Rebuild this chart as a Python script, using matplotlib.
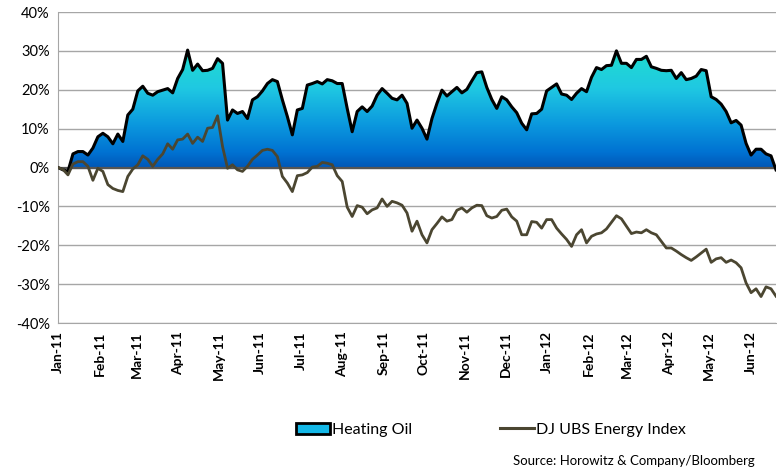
import matplotlib
matplotlib.use("Agg")
import matplotlib.pyplot as plt
import matplotlib.dates as mdates
from matplotlib.colors import LinearSegmentedColormap
from matplotlib.patches import Patch
from matplotlib.lines import Line2D
import numpy as np
import pandas as pd

plt.rcParams["font.family"] = ["Lato", "DejaVu Sans"]

# cumulative % change since start of 2011 (~every 3-4 days)
heating_oil = [
    0.0, -0.6, -1.0, 3.5, 4.1, 4.1, 3.2, 5.0, 7.9, 8.8, 7.9, 6.1, 8.6, 6.7, 13.5,
    15.0, 19.7, 20.9, 19.1, 18.6, 19.5, 19.9, 20.3, 19.2, 22.9, 25.2, 30.2, 25.0, 26.6,
    24.9, 25.0, 25.5, 28.0, 26.8, 12.2, 14.8, 13.9, 14.4, 12.6, 17.4, 18.2, 19.7, 21.6,
    22.6, 22.1, 17.4, 13.1, 8.4, 14.8, 15.2, 21.2, 21.6, 22.1, 21.5, 22.6, 22.3, 21.6,
    21.6, 15.2, 9.2, 14.4, 15.6, 14.4, 15.8, 18.6, 20.3, 19.1, 17.8, 17.4, 18.6, 16.5,
    10.1, 12.2, 10.1, 7.3, 12.6, 16.5, 19.9, 18.4, 19.5, 20.6, 19.2, 20.1, 22.3, 24.4,
    24.6, 20.6, 17.5, 15.2, 18.2, 17.4, 15.6, 14.1, 11.4, 9.7, 13.8, 13.9, 15.0, 19.7,
    20.6, 21.5, 18.9, 18.6, 17.5, 19.1, 20.3, 19.5, 23.2, 25.7, 25.2, 26.2, 26.3, 30.0,
    26.8, 26.8, 25.7, 27.8, 27.8, 28.6, 25.9, 25.5, 25.0, 24.9, 25.0, 22.9, 24.4, 22.6,
    22.9, 23.5, 25.2, 24.9, 18.2, 17.5, 16.3, 14.4, 11.5, 12.1, 10.9, 6.2, 3.2, 4.7,
    4.7, 3.5, 3.0, -0.6,
]
dj_ubs_energy = [
    0.0, -0.5, -1.9, 0.9, 1.5, 1.5, 0.3, -3.3, -0.2, -1.0, -4.4, -5.4, -5.9, -6.2, -2.3,
    -0.4, 0.7, 3.0, 2.1, 0.3, 2.1, 3.5, 6.1, 4.7, 7.1, 7.3, 8.6, 6.2, 7.8,
    6.7, 10.1, 10.3, 13.3, 5.4, -0.2, 0.7, -0.6, -1.0, 0.3, 2.1, 3.2, 4.4, 4.7,
    4.4, 2.8, -2.3, -4.0, -6.2, -2.1, -1.9, -1.3, 0.1, 0.3, 1.3, 1.1, 0.7, -2.1,
    -3.6, -10.2, -12.6, -9.8, -10.2, -11.9, -10.9, -10.4, -8.1, -10.0, -8.7, -9.1, -9.7, -11.7,
    -16.4, -13.8, -17.3, -19.4, -16.0, -14.4, -12.7, -13.8, -13.4, -11.0, -10.4, -11.5, -10.4, -9.7,
    -9.8, -12.4, -13.0, -12.6, -11.0, -10.7, -12.7, -13.8, -17.3, -17.3, -13.9, -14.1, -15.6, -13.4,
    -13.4, -15.6, -17.1, -18.5, -20.3, -17.3, -16.0, -19.4, -17.7, -17.1, -16.8, -15.8, -14.1, -12.4,
    -13.2, -15.1, -17.0, -16.6, -16.8, -16.0, -16.8, -17.3, -19.0, -20.7, -20.7, -21.5, -22.4, -23.2,
    -23.9, -23.0, -22.0, -21.0, -24.4, -23.5, -23.2, -24.4, -23.8, -24.5, -25.8, -29.7, -32.2, -31.2,
    -33.2, -30.7, -31.2, -33.1,
]
dates = pd.date_range("2011-01-01", "2012-06-20", periods=len(heating_oil))
y_ticks = [-40, -30, -20, -10, 0, 10, 20, 30, 40]

OLIVE = "#4b4631"
GRID = "#a6a6a6"
grad = LinearSegmentedColormap.from_list(
    "ho", [(0.0, "#0058b8"), (0.12, "#0072d2"), (0.35, "#0b98de"),
           (0.65, "#1fc8e2"), (0.85, "#20d6d6"), (1.0, "#16d6b4")])

fig = plt.figure(figsize=(7.77, 4.73), dpi=100)
ax = fig.add_axes([58 / 777, 1 - 323 / 473, 718 / 777, 311 / 473])

xnum = mdates.date2num(dates)
ho = np.array(heating_oil)

# gradient area: image clipped by the fill polygon
poly = ax.fill_between(xnum, 0, ho, color="none", lw=0, zorder=2)
img = ax.imshow(np.linspace(0, 1, 256).reshape(-1, 1), cmap=grad, origin="lower",
                aspect="auto", extent=[xnum[0], xnum[-1], 0, 31], zorder=2)
img.set_clip_path(poly.get_paths()[0], transform=ax.transData)

ax.axhline(0, color="#555555", lw=1.6, zorder=2.5)
ax.plot(xnum, ho, color="black", lw=2.2, zorder=3)
ax.plot(xnum, dj_ubs_energy, color=OLIVE, lw=2.0, zorder=4)

ax.set_xlim(mdates.date2num(pd.Timestamp("2011-01-01")),
            mdates.date2num(pd.Timestamp("2012-06-20")))
ax.set_ylim(-40, 40)
ax.set_yticks(y_ticks)
ax.set_yticklabels([f"{v}%" for v in y_ticks], fontsize=10.5)
ax.yaxis.grid(True, color=GRID, lw=1.0, zorder=0)
ax.set_axisbelow(True)

ax.xaxis.set_major_locator(mdates.MonthLocator())
ax.xaxis.set_major_formatter(mdates.DateFormatter("%b-%y"))
for lbl in ax.get_xticklabels():
    lbl.set_rotation(90)
    lbl.set_fontweight("bold")
    lbl.set_fontsize(10)
ax.tick_params(axis="both", length=0)
ax.tick_params(axis="x", pad=6)
ax.tick_params(axis="y", pad=6)

for s in ["top", "right"]:
    ax.spines[s].set_visible(False)
ax.spines["left"].set_color(GRID)
ax.spines["bottom"].set_color(GRID)

handles = [Patch(facecolor="#14b8e8", edgecolor="black", lw=2),
           Line2D([0], [0], color=OLIVE, lw=2.2)]
fig.legend(handles, ["Heating Oil", "DJ UBS Energy Index"], loc="center",
           bbox_to_anchor=(0.632, 0.091), ncol=2, frameon=False, fontsize=11.5,
           handlelength=2.1, handleheight=0.75, handletextpad=0.15, columnspacing=5.5)
fig.text(0.972, 0.025, "Source: Horowitz & Company/Bloomberg", ha="right",
         va="center", fontsize=9.5)

fig.savefig("out.png", dpi=100)
